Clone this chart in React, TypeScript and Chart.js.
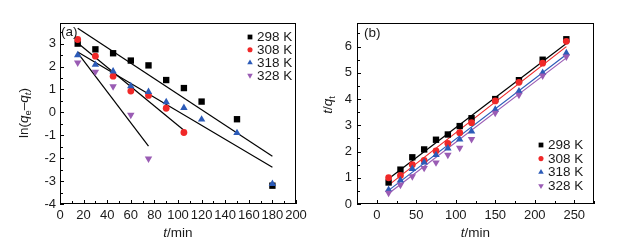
import React, { useEffect, useRef } from 'react';
import { Chart, registerables } from 'chart.js';
Chart.register(...registerables);

// ---------- data: panel (a) ln(qe - qt) vs t ----------
const tA298 = [15, 30, 45, 60, 75, 90, 105, 120, 150, 180];
const lnA298 = [3.0, 2.75, 2.58, 2.26, 2.05, 1.41, 1.06, 0.47, -0.3, -3.2];
const tA308 = [15, 30, 45, 60, 75, 90, 105];
const lnA308 = [3.18, 2.45, 1.58, 0.93, 0.74, 0.18, -0.88];
const tA318 = [15, 30, 45, 60, 75, 90, 105, 120, 150, 180];
const lnA318 = [2.5, 2.08, 1.79, 1.15, 0.9, 0.45, 0.2, -0.31, -0.9, -3.12];
const tA328 = [15, 30, 45, 60, 75];
const lnA328 = [2.17, 1.77, 1.13, -0.11, -2.02];
// fitted lines (end points)
const fitA298X = [15, 180];
const fitA298Y = [3.67, -1.92];
const fitA308X = [15, 105];
const fitA308Y = [3.03, -0.78];
const fitA318X = [15, 180];
const fitA318Y = [2.63, -2.4];
const fitA328X = [15, 75];
const fitA328Y = [2.6, -1.47];

// ---------- data: panel (b) t/qt vs t ----------
const tB = [15, 30, 45, 60, 75, 90, 105, 120, 150, 180, 210, 240];
const qB298 = [0.82, 1.31, 1.78, 2.08, 2.45, 2.65, 2.97, 3.27, 4.0, 4.72, 5.5, 6.28];
const qB308 = [1.0, 1.09, 1.5, 1.66, 2.02, 2.31, 2.72, 3.1, 3.93, 4.64, 5.37, 6.2];
const qB318 = [0.54, 0.9, 1.34, 1.59, 1.87, 2.12, 2.46, 2.77, 3.6, 4.3, 5.0, 5.75];
const qB328 = [0.42, 0.73, 1.05, 1.37, 1.58, 1.87, 2.14, 2.47, 3.47, 4.16, 4.89, 5.62];
const fitBX = [15, 240];
const fitB298Y = [0.96, 6.12];
const fitB308Y = [0.72, 6.0];
const fitB318Y = [0.52, 5.7];
const fitB328Y = [0.4, 5.57];

// ---------- tick labels ----------
const xTicksA = [0, 20, 40, 60, 80, 100, 120, 140, 160, 180, 200];
const yTicksA = [-4, -3, -2, -1, 0, 1, 2, 3];
const xTicksB = [0, 50, 100, 150, 200, 250];
const yTicksB = [0, 1, 2, 3, 4, 5, 6];

// ---------- series ----------
const seriesLabels = ['298 K', '308 K', '318 K', '328 K'];
const seriesColors = ['#000000', '#f02828', '#2c5bb8', '#9a5cb4'];
const seriesStyles = ['rect', 'circle', 'triangle', 'triangle'];
const seriesRot = [0, 0, 0, 180];
const seriesRadius = [4.5, 3.4, 4.3, 4.3];

const FAM = 'Arial, "Liberation Sans", Arimo, sans-serif';

type Part = { t: string; it?: boolean; sub?: boolean };

function drawRich(ctx: CanvasRenderingContext2D, parts: Part[], cx: number, cy: number, size: number, rot: number) {
  ctx.save();
  ctx.translate(cx, cy);
  ctx.rotate(rot);
  ctx.textBaseline = 'middle';
  ctx.textAlign = 'left';
  ctx.fillStyle = '#1a1a1a';
  const fontOf = (p: Part) => `${p.it ? 'italic ' : ''}${p.sub ? size * 0.7 : size}px ${FAM}`;
  let w = 0;
  for (const p of parts) {
    ctx.font = fontOf(p);
    w += ctx.measureText(p.t).width;
  }
  let x = -w / 2;
  for (const p of parts) {
    ctx.font = fontOf(p);
    ctx.fillText(p.t, x, p.sub ? size * 0.32 : 0);
    x += ctx.measureText(p.t).width;
  }
  ctx.restore();
}

function drawMarker(ctx: CanvasRenderingContext2D, style: string, rot: number, x: number, y: number, r: number, color: string) {
  ctx.save();
  ctx.fillStyle = color;
  ctx.beginPath();
  if (style === 'rect') {
    const s = r * Math.SQRT1_2;
    ctx.rect(x - s, y - s, 2 * s, 2 * s);
  } else if (style === 'circle') {
    ctx.arc(x, y, r, 0, Math.PI * 2);
  } else {
    const d = rot === 180 ? -1 : 1;
    ctx.moveTo(x, y - d * r);
    ctx.lineTo(x + r * Math.sin(Math.PI / 3), y + d * r * 0.5);
    ctx.lineTo(x - r * Math.sin(Math.PI / 3), y + d * r * 0.5);
    ctx.closePath();
  }
  ctx.fill();
  ctx.restore();
}

interface DecorCfg {
  xMinor: number; xMajor: number; yMinor: number; yMajor: number;
  xStart: number; yStart: number;
  panel: string; panelX: number; panelY: number;
  legendX: number; legendY: number; legendDy: number;
  yTitle: Part[]; yTitleX: number; yTitleY: number;
}

function makeDecor(cfg: DecorCfg) {
  return {
    id: 'decor',
    afterDraw(chart: any) {
      const { ctx, chartArea: a, scales } = chart;
      const xs = scales.x, ys = scales.y;
      ctx.save();
      ctx.strokeStyle = '#000';
      ctx.lineWidth = 1;
      // ticks (inward)
      for (let v = cfg.xStart; v <= xs.max + 1e-9; v += cfg.xMinor) {
        if (v < xs.min - 1e-9) continue;
        const px = Math.round(xs.getPixelForValue(v)) + 0.5;
        const major = Math.abs(v / cfg.xMajor - Math.round(v / cfg.xMajor)) < 1e-6;
        const len = major ? 4 : 3;
        ctx.beginPath();
        ctx.moveTo(px, a.bottom);
        ctx.lineTo(px, a.bottom - len);
        ctx.stroke();
      }
      for (let v = cfg.yStart; v <= ys.max + 1e-9; v += cfg.yMinor) {
        if (v < ys.min - 1e-9) continue;
        const py = Math.round(ys.getPixelForValue(v)) + 0.5;
        const major = Math.abs(v / cfg.yMajor - Math.round(v / cfg.yMajor)) < 1e-6;
        const len = major ? 4 : 3;
        ctx.beginPath();
        ctx.moveTo(a.left, py);
        ctx.lineTo(a.left + len, py);
        ctx.stroke();
      }
      // frame
      ctx.strokeRect(Math.round(a.left) + 0.5, Math.round(a.top) + 0.5, Math.round(a.width) - 1, Math.round(a.height) - 1);
      ctx.restore();

      // panel label
      ctx.save();
      ctx.fillStyle = '#1a1a1a';
      ctx.font = `13.5px ${FAM}`;
      ctx.textBaseline = 'middle';
      ctx.textAlign = 'left';
      ctx.fillText(cfg.panel, a.left + cfg.panelX, a.top + cfg.panelY);
      // legend
      for (let i = 0; i < seriesLabels.length; i++) {
        const y = a.top + cfg.legendY + i * cfg.legendDy;
        drawMarker(ctx, seriesStyles[i], seriesRot[i], a.left + cfg.legendX, y, seriesRadius[i] * 0.75, seriesColors[i]);
        ctx.fillStyle = '#1a1a1a';
        ctx.font = `13.5px ${FAM}`;
        ctx.fillText(seriesLabels[i], a.left + cfg.legendX + 7, y + 0.5);
      }
      ctx.restore();

      // axis titles
      drawRich(ctx, [{ t: 't', it: true }, { t: '/min' }], (a.left + a.right) / 2, 233, 13.5, 0);
      drawRich(ctx, cfg.yTitle, cfg.yTitleX, cfg.yTitleY, 13.5, -Math.PI / 2);
    },
  };
}

function pts(xs: number[], ys: number[]) {
  return xs.map((x, i) => ({ x, y: ys[i] }));
}

function buildDatasets(markers: { x: number; y: number }[][], fits: { x: number; y: number }[][], lineColors: string[]) {
  const ds: any[] = [];
  markers.forEach((d, i) => {
    ds.push({
      label: seriesLabels[i],
      data: d,
      showLine: false,
      pointStyle: seriesStyles[i],
      rotation: seriesRot[i],
      pointRadius: seriesRadius[i],
      pointBackgroundColor: seriesColors[i],
      pointBorderWidth: 0,
      borderColor: seriesColors[i],
      order: 3 - i,
    });
  });
  fits.forEach((d, i) => {
    ds.push({
      label: 'fit' + i,
      data: d,
      showLine: true,
      pointRadius: 0,
      borderColor: lineColors[i],
      borderWidth: 1.2,
      fill: false,
      order: 10 + i,
    });
  });
  return ds;
}

function makeScales(xmin: number, xmax: number, ymin: number, ymax: number, xt: number[], yt: number[], yw: number, ypad: number) {
  const tickFont = { family: FAM, size: 13 };
  return {
    x: {
      type: 'linear', min: xmin, max: xmax,
      grid: { display: false, drawTicks: false }, border: { display: false },
      ticks: { font: tickFont, color: '#1a1a1a', padding: 4, maxRotation: 0, autoSkip: false },
      afterBuildTicks: (s: any) => { s.ticks = xt.map((v) => ({ value: v })); },
      afterFit: (s: any) => { s.height = 41; },
    },
    y: {
      type: 'linear', min: ymin, max: ymax,
      grid: { display: false, drawTicks: false }, border: { display: false },
      ticks: { font: tickFont, color: '#1a1a1a', padding: ypad, autoSkip: false },
      afterBuildTicks: (s: any) => { s.ticks = yt.map((v) => ({ value: v })); },
      afterFit: (s: any) => { s.width = yw; },
    },
  };
}

function PanelA() {
  const ref = useRef<HTMLCanvasElement>(null);
  useEffect(() => {
    const chart = new Chart(ref.current as HTMLCanvasElement, {
      type: 'scatter',
      data: {
        datasets: buildDatasets(
          [pts(tA298, lnA298), pts(tA308, lnA308), pts(tA318, lnA318), pts(tA328, lnA328)],
          [pts(fitA298X, fitA298Y), pts(fitA308X, fitA308Y), pts(fitA318X, fitA318Y), pts(fitA328X, fitA328Y)],
          ['#000', '#000', '#000', '#000']
        ),
      },
      options: {
        responsive: false, animation: false, devicePixelRatio: 1,
        layout: { padding: { left: 0, right: 22, top: 23, bottom: 0 } },
        plugins: { legend: { display: false }, tooltip: { enabled: false } },
        scales: makeScales(0, 200, -4, 3.9, xTicksA, yTicksA, 60, 4) as any,
      },
      plugins: [makeDecor({
        xMinor: 10, xMajor: 20, yMinor: 0.5, yMajor: 1, xStart: 0, yStart: -4,
        panel: '(a)', panelX: 1, panelY: 9,
        legendX: 190, legendY: 14, legendDy: 12.8,
        yTitle: [{ t: 'ln(' }, { t: 'q', it: true }, { t: 'e', sub: true }, { t: '–' }, { t: 'q', it: true }, { t: 't', sub: true, it: true }, { t: ')' }],
        yTitleX: 24, yTitleY: 113,
      }) as any],
    });
    return () => chart.destroy();
  }, []);
  return <canvas ref={ref} width={318} height={245} style={{ position: 'absolute', left: 0, top: 0, width: 318, height: 245 }} />;
}

function PanelB() {
  const ref = useRef<HTMLCanvasElement>(null);
  useEffect(() => {
    const chart = new Chart(ref.current as HTMLCanvasElement, {
      type: 'scatter',
      data: {
        datasets: buildDatasets(
          [pts(tB, qB298), pts(tB, qB308), pts(tB, qB318), pts(tB, qB328)],
          [pts(fitBX, fitB298Y), pts(fitBX, fitB308Y), pts(fitBX, fitB318Y), pts(fitBX, fitB328Y)],
          seriesColors
        ),
      },
      options: {
        responsive: false, animation: false, devicePixelRatio: 1,
        layout: { padding: { left: 0, right: 42, top: 23, bottom: 0 } },
        plugins: { legend: { display: false }, tooltip: { enabled: false } },
        scales: makeScales(-25, 275, 0, 6.9, xTicksB, yTicksB, 39, 5) as any,
      },
      plugins: [makeDecor({
        xMinor: 25, xMajor: 50, yMinor: 0.5, yMajor: 1, xStart: -25, yStart: 0,
        panel: '(b)', panelX: 7, panelY: 10,
        legendX: 184, legendY: 122, legendDy: 13.6,
        yTitle: [{ t: 't', it: true }, { t: '/' }, { t: 'q', it: true }, { t: 't', sub: true }],
        yTitleX: 10, yTitleY: 105,
      }) as any],
    });
    return () => chart.destroy();
  }, []);
  return <canvas ref={ref} width={318} height={245} style={{ position: 'absolute', left: 318, top: 0, width: 318, height: 245 }} />;
}

export default function App() {
  return (
    <div style={{ position: 'absolute', left: 0, top: 0, width: 636, height: 245, background: '#fff', overflow: 'hidden' }}>
      <PanelA />
      <PanelB />
    </div>
  );
}
